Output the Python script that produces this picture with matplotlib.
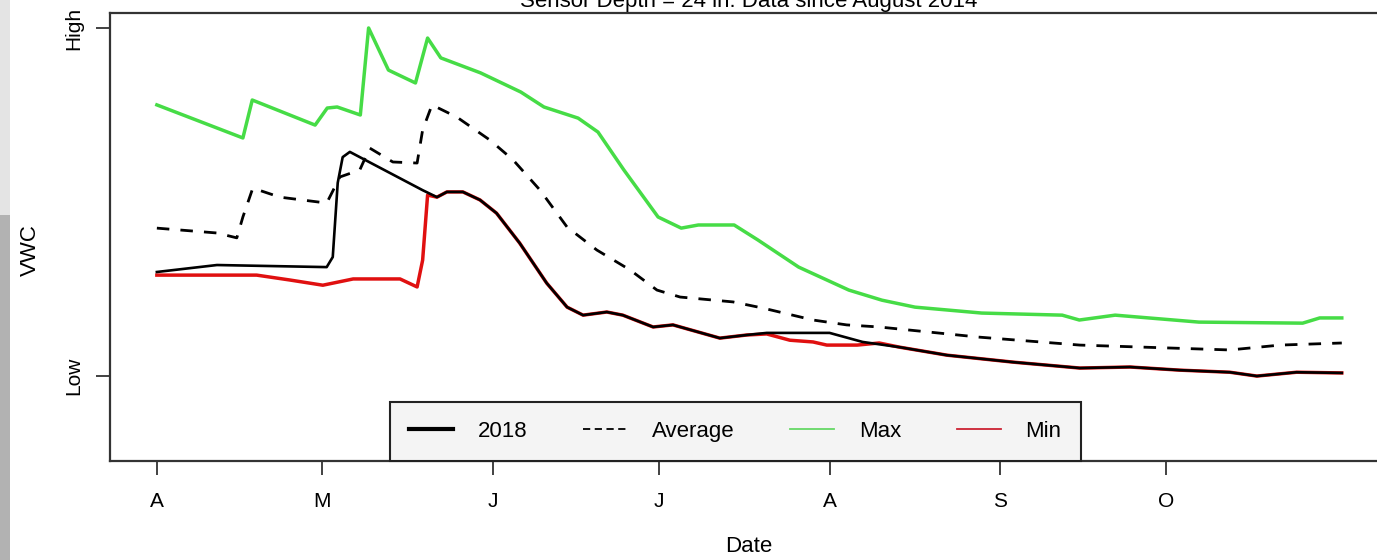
import matplotlib
matplotlib.use("Agg")
import matplotlib.pyplot as plt
from matplotlib.lines import Line2D
from matplotlib.patches import Rectangle

plt.rcParams['font.family'] = ['Liberation Sans', 'DejaVu Sans']

# days since April 1, values scaled so Low = 0 and High = 1
max_day = [0, 15.6, 17.3, 28.7, 30.9, 32.7, 36.9, 38.4, 42, 46.9, 49.1, 51.5, 58.7, 66,
           70.2, 76.4, 80, 84.7, 90.9, 95.1, 98.2, 104.7, 109, 116.4, 125.5, 131.5, 137.5,
           149.6, 164.2, 167.3, 173.8, 189, 207.8, 210.9, 214.9]
max_val = [0.779, 0.684, 0.793, 0.721, 0.770, 0.773, 0.750, 1.0, 0.879, 0.842, 0.971, 0.914,
           0.871, 0.816, 0.773, 0.741, 0.701, 0.592, 0.457, 0.425, 0.434, 0.434, 0.391, 0.313,
           0.247, 0.218, 0.198, 0.181, 0.175, 0.161, 0.175, 0.155, 0.152, 0.167, 0.167]

avg_day = [0, 10.9, 14.5, 15.6, 17.4, 22.3, 30.8, 33.2, 36.8, 38.6, 42.8, 47.2, 48.2, 49.9,
           54.4, 60.4, 64.6, 69.5, 74.4, 79.8, 85.8, 90.7, 94.9, 104.5, 110, 119, 125.1, 131,
           149, 167.4, 194.6, 203.7, 214.9]
avg_val = [0.425, 0.411, 0.397, 0.457, 0.540, 0.514, 0.497, 0.572, 0.592, 0.655, 0.615, 0.612,
           0.707, 0.779, 0.744, 0.678, 0.621, 0.534, 0.428, 0.362, 0.305, 0.247, 0.227, 0.213,
           0.195, 0.161, 0.147, 0.141, 0.112, 0.089, 0.075, 0.089, 0.095]

y18_day = [0, 6, 10.9, 30.8, 31.9, 32.8, 33.7, 35, 36.8, 48.2, 50.8, 52.6, 55.5, 58.6, 61.6,
           65.8, 70.7, 74.4, 77.3, 81.6, 84.5, 90, 93.6, 102.1, 107, 110.6, 116, 122, 128,
           134.7, 143.3, 155.3, 167.4, 176.5, 185.5, 194.6, 199.5, 206.7, 214.9]
y18_val = [0.299, 0.310, 0.319, 0.313, 0.342, 0.555, 0.629, 0.644, 0.629, 0.534, 0.514, 0.529,
           0.529, 0.506, 0.468, 0.382, 0.267, 0.198, 0.175, 0.184, 0.175, 0.141, 0.147, 0.109,
           0.118, 0.124, 0.124, 0.124, 0.098, 0.083, 0.060, 0.040, 0.023, 0.026, 0.017, 0.011,
           0.0, 0.011, 0.009]

min_day = [0, 18.1, 24.1, 30.1, 35.6, 44.1, 47.2, 48.2, 49.1, 50.8, 52.6, 55.5, 58.6, 61.6,
           65.8, 70.7, 74.4, 77.3, 81.6, 84.5, 90, 93.6, 102.1, 107, 110.6, 114.8, 119, 121.5,
           127, 131, 134.7, 143.3, 155.3, 167.4, 176.5, 185.5, 194.6, 199.5, 206.7, 214.9]
min_val = [0.290, 0.290, 0.276, 0.261, 0.279, 0.279, 0.256, 0.333, 0.520, 0.514, 0.529, 0.529,
           0.506, 0.468, 0.382, 0.267, 0.198, 0.175, 0.184, 0.175, 0.141, 0.147, 0.109, 0.118,
           0.121, 0.103, 0.098, 0.089, 0.089, 0.095, 0.083, 0.060, 0.040, 0.023, 0.026, 0.017,
           0.011, 0.0, 0.011, 0.009]

month_days = [0, 30, 61, 91, 122, 153, 183]
month_labels = ['A', 'M', 'J', 'J', 'A', 'S', 'O']
level_ticks = [0, 1]
level_labels = ['Low', 'High']

W, H = 1377, 560
fig = plt.figure(figsize=(W / 100, H / 100), dpi=100)

# grey photo edge on the left
fig.patches.append(Rectangle((0, 1 - 215 / H), 10 / W, 215 / H, transform=fig.transFigure,
                             facecolor='#e4e4e4', edgecolor='none'))
fig.patches.append(Rectangle((0, 0), 10 / W, 1 - 215 / H, transform=fig.transFigure,
                             facecolor='#b2b2b2', edgecolor='none'))

ax = fig.add_axes([110 / W, 1 - 461 / H, 1277 / W, 448 / H])

ax.plot(max_day, max_val, color='#46dc46', lw=2.5, solid_joinstyle='round')
ax.plot(min_day, min_val, color='#e01010', lw=2.5, solid_joinstyle='round')
ax.plot(avg_day, avg_val, color='black', lw=2.0, linestyle=(0, (4.5, 4)))
ax.plot(y18_day, y18_val, color='black', lw=1.9, solid_joinstyle='round')

ax.set_xlim(-8.5, 223.1)
ax.set_ylim(-0.244, 1.043)

ax.set_xticks(month_days)
ax.set_xticklabels(month_labels)
ax.set_yticks(level_ticks)
ax.set_yticklabels(level_labels, rotation=90, va='center')
ax.tick_params(axis='both', length=10, width=1.3, color='#333333', labelsize=15)
ax.tick_params(axis='x', pad=12)
ax.tick_params(axis='y', pad=9)
for s in ['left', 'bottom', 'top']:
    ax.spines[s].set_linewidth(1.6)
    ax.spines[s].set_color('#333333')
ax.spines['right'].set_visible(False)

# the title sits partly above the top edge, as in the source picture
fig.text(748.5 / W, 1 - 7 / H, 'Sensor Depth = 24 in. Data since August 2014',
         ha='center', va='baseline', fontsize=16)
fig.text(748.5 / W, 1 - 546 / H, 'Date', ha='center', va='center', fontsize=16)
fig.text(30 / W, 1 - 250 / H, 'VWC', ha='center', va='center', rotation=90, fontsize=16)

handles = [
    Line2D([], [], color='black', lw=3),
    Line2D([], [], color='black', lw=1.3, linestyle=(0, (4, 2.5))),
    Line2D([], [], color='#66d866', lw=1.3),
    Line2D([], [], color='#cc2233', lw=1.3),
]
leg = ax.legend(handles, ['2018', 'Average', 'Max', 'Min'], ncol=4, fontsize=16,
                loc='lower left', bbox_to_anchor=(280 / 1277, 0), frameon=True,
                fancybox=False, handlelength=2.0, handletextpad=1.1, columnspacing=2.5,
                borderpad=0.85, borderaxespad=0)
frame = leg.get_frame()
frame.set_facecolor('#f4f4f4')
frame.set_edgecolor('#222222')
frame.set_linewidth(1.5)
frame.set_alpha(1)

fig.savefig('out.png', dpi=100)
